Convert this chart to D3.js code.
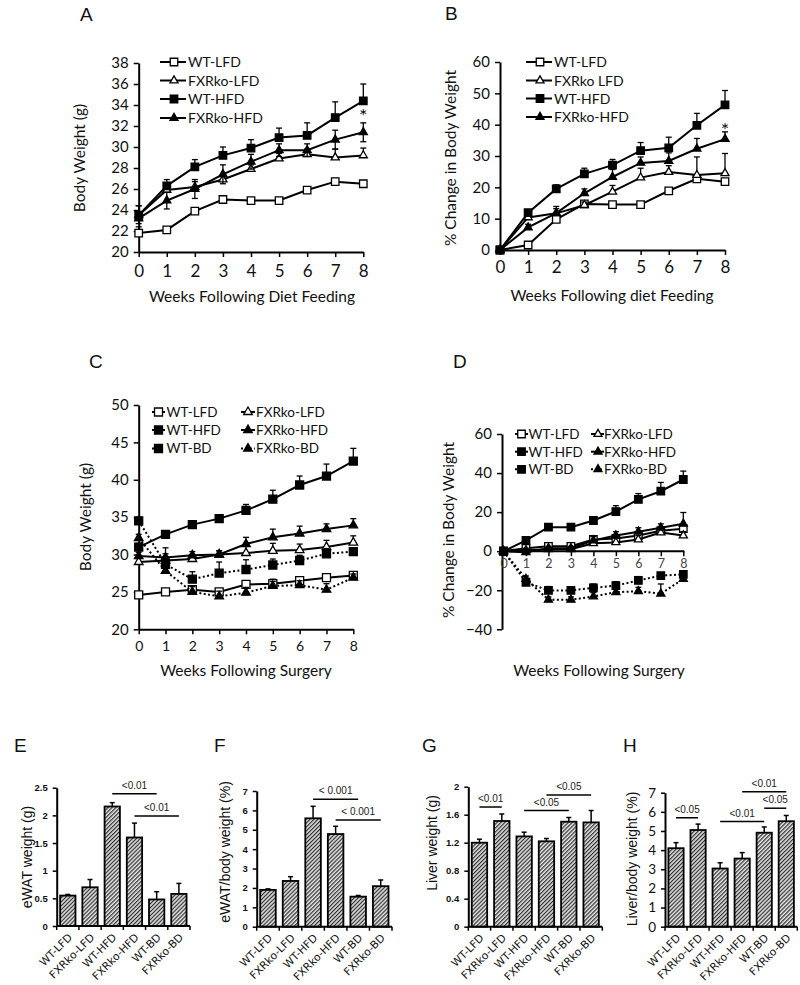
<!DOCTYPE html>
<html><head><meta charset="utf-8">
<script src="https://cdn.jsdelivr.net/npm/d3@7/dist/d3.min.js"></script>
<style>body{margin:0;background:#fff}svg{display:block}</style>
</head><body>
<svg id="fig" width="800" height="985"></svg>
<script>
// ---------------- DATA ----------------
const weeks = [0,1,2,3,4,5,6,7,8];

// Panel A: body weight (g), diet feeding
const aWtLfd = [21.8,22.1,23.9,25.0,24.9,24.9,25.9,26.7,26.5];
const aWtLfdErr = [0.6,0.2,0.2,0.2,0.2,0.2,0.3,0.3,0.2];
const aKoLfd = [23.5,25.9,26.2,26.9,27.9,28.9,29.3,29.0,29.2];
const aKoLfdErr = [0.9,0.6,0.5,0.5,0.4,0.5,0.5,0.8,0.7];
const aWtHfd = [23.5,26.3,28.1,29.2,29.9,30.9,31.1,32.8,34.4];
const aWtHfdErr = [0.9,0.6,0.7,0.8,0.8,0.9,1.2,1.5,1.6];
const aKoHfd = [23.2,24.9,26.0,27.4,28.6,29.7,29.7,30.7,31.4];
const aKoHfdErr = [0.5,0.8,0.9,0.9,0.7,0.6,0.6,0.9,0.9];
const aYTicks = [20,22,24,26,28,30,32,34,36,38];

// Panel B: % change in body weight, diet feeding
const bWtLfd = [0,1.6,9.8,14.7,14.5,14.5,18.9,22.7,21.8];
const bWtLfdErr = [0,0.5,0.6,0.6,0.5,0.5,0.6,0.9,0.8];
const bKoLfd = [0,10.4,11.7,14.3,18.6,23.1,24.9,23.9,24.5];
const bKoLfdErr = [0,1,1.5,1,2,3,2,5.8,6.3];
const bWtHfd = [0,11.9,19.5,24.3,27.1,31.7,32.6,39.8,46.3];
const bWtHfdErr = [0,0.5,1.3,1.8,1.8,2.6,3.4,3.8,4.6];
const bKoHfd = [0,7.2,11.8,18.1,23.3,27.8,28.4,32.3,35.4];
const bKoHfdErr = [0,1,2.1,1.4,2.4,1.9,2.6,3.3,2.3];
const bYTicks = [0,10,20,30,40,50,60];

// Panel C: body weight (g), following surgery
const cWtLfd = [24.6,25.0,25.3,25.0,26.0,26.1,26.5,26.9,27.2];
const cWtLfdErr = [0.3,0.3,0.4,0.4,0.5,0.6,0.5,0.5,0.5];
const cKoLfd = [29.0,29.2,29.4,30.0,30.2,30.5,30.6,31.0,31.6];
const cKoLfdErr = [0.5,0.5,0.5,0.5,1.0,1.0,0.8,0.9,0.9];
const cWtHfd = [31.0,32.7,34.0,34.8,35.9,37.4,39.3,40.5,42.5];
const cWtHfdErr = [0.5,0.4,0.4,0.4,0.8,1.2,1.2,1.6,1.7];
const cKoHfd = [29.8,29.6,29.9,30.0,31.4,32.3,32.8,33.4,33.9];
const cKoHfdErr = [0.5,0.5,0.5,0.5,0.9,1.1,1.0,0.7,0.9];
const cWtBd = [34.5,28.7,26.7,27.5,28.0,28.6,29.2,30.1,30.4];
const cWtBdErr = [0.5,2.2,1.0,1.5,1.3,0.8,0.7,0.7,0.5];
const cKoBd = [32.2,27.8,25.0,24.4,24.9,25.8,25.9,25.3,26.9];
const cKoBdErr = [0.5,1.0,0.7,0.7,0.7,0.6,0.6,0.8,0.5];
const cYTicks = [20,25,30,35,40,45,50];

// Panel D: % change in body weight, following surgery
const dWtLfd = [0,1.5,2.5,2.5,6.0,6.5,8.0,10.5,11.5];
const dWtLfdErr = [0,1,1,1,1.5,1.5,1.5,1.5,1.5];
const dKoLfd = [0,0.5,1.0,1.0,4.0,4.5,6.0,9.5,8.0];
const dKoLfdErr = [0,1,1,1,1.5,2,2,2,2];
const dWtHfd = [0,5.5,12.3,12.3,15.7,20.3,26.5,30.7,36.7];
const dWtHfdErr = [0,1,1,1,1.5,3,3,4.5,4.3];
const dKoHfd = [0,-0.5,1.5,1.5,5.5,8.0,10.0,12.0,14.0];
const dKoHfdErr = [0,1,1,1,2,2,2,2,5.8];
const dWtBd = [0,-15.9,-20.1,-20.1,-18.8,-17.6,-15.0,-12.5,-11.9];
const dWtBdErr = [0,1.5,2,1.5,2,2,2,1.5,1.5];
const dKoBd = [0,-14.2,-24.9,-24.9,-23.2,-21.0,-20.5,-21.8,-14.2];
const dKoBdErr = [0,1.5,1.5,1.5,2,2,2,5,2];
const dYTicks = [-40,-20,0,20,40,60];

// Bar panels
const barCats = ["WT-LFD","FXRko-LFD","WT-HFD","FXRko-HFD","WT-BD","FXRko-BD"];
const eVals = [0.55,0.70,2.16,1.60,0.48,0.58];
const eErr  = [0.02,0.14,0.07,0.26,0.14,0.19];
const eTicks = [0,0.5,1,1.5,2,2.5];
const eTickLabels = ["0","0.5","1","1.5","2","2.5"];
const fVals = [1.90,2.36,5.59,4.78,1.55,2.09];
const fErr  = [0.05,0.22,0.62,0.40,0.06,0.32];
const fTicks = [0,1,2,3,4,5,6,7];
const gVals = [1.20,1.51,1.29,1.22,1.50,1.49];
const gErr  = [0.05,0.10,0.06,0.04,0.06,0.17];
const gTicks = [0,0.4,0.8,1.2,1.6,2];
const gTickLabels = ["0","0.4","0.8","1.2","1.6","2"];
const hVals = [4.10,5.05,3.04,3.56,4.91,5.51];
const hErr  = [0.29,0.31,0.30,0.31,0.30,0.30];
const hTicks = [0,1,2,3,4,5,6,7];
// significance brackets: [from index, to index, label, level]
const eSig = [[2,4,"<0.01",2.39],[3,5,"<0.01",1.99]];
const fSig = [[2,4,"< 0.001",6.57],[3,5,"< 0.001",5.5]];
const gSig = [[0,1,"<0.01",1.71],[2,4,"<0.05",1.66],[3,5,"<0.05",1.88]];
const hSig = [[0,1,"<0.05",5.69],[2,4,"<0.01",5.49],[3,5,"<0.01",7.05],[4,5,"<0.05",6.19]];

// ---------------- DRAWING ----------------
const svg = d3.select("#fig");
svg.append("rect").attr("width",800).attr("height",985).attr("fill","#fff");
const defs = svg.append("defs");
const pat = defs.append("pattern").attr("id","hatch").attr("patternUnits","userSpaceOnUse")
  .attr("width",2.8).attr("height",2.8).attr("patternTransform","rotate(45)");
pat.append("rect").attr("width",2.8).attr("height",2.8).attr("fill","#e2e2e2");
pat.append("line").attr("x1",0.6).attr("y1",0).attr("x2",0.6).attr("y2",2.8).attr("stroke","#222").attr("stroke-width",1.1);

const SANS = "Lato, 'Open Sans', sans-serif";
const ARIAL = "'Liberation Sans', Arial, sans-serif";

function panelLetter(t,x,y){
  svg.append("text").attr("x",x).attr("y",y).text(t)
    .attr("font-family",ARIAL).attr("font-size",19).attr("fill","#111");
}

function drawMarker(g, type, filled, cx, cy, sz){
  const area = type==="sq" ? sz*sz : sz*sz*0.5;
  g.append("path")
    .attr("d", d3.symbol().type(type==="sq"?d3.symbolSquare:d3.symbolTriangle).size(area)())
    .attr("transform",`translate(${cx},${cy})`)
    .attr("fill", filled ? "#000" : "#fff")
    .attr("stroke","#000").attr("stroke-width",1.3);
}

function linePanel(o){
  const g = svg.append("g");
  const x = d3.scaleLinear().domain([0,8]).range(o.xr);
  const y = d3.scaleLinear().domain(o.yd).range(o.yr);
  const yAxisX = o.yAxisX !== undefined ? o.yAxisX : x(0);
  const xAxisY = o.xAxisY !== undefined ? o.xAxisY : o.yr[0];
  const ya = g.append("g").attr("transform",`translate(${yAxisX},0)`)
    .call(d3.axisLeft(y).tickValues(o.yTicks).tickSize(5).tickSizeOuter(0).tickPadding(o.yPad||5));
  const xa = g.append("g").attr("transform",`translate(0,${xAxisY})`)
    .call(d3.axisBottom(x).tickValues(weeks).tickSize(5).tickSizeOuter(0).tickPadding(o.xPad||6));
  [ya,xa].forEach(a=>{
    a.select(".domain").attr("stroke","#000").attr("stroke-width",2);
    a.selectAll(".tick line").attr("stroke","#000").attr("stroke-width",1.5);
  });
  if (o.xAxisStart!==undefined) xa.select(".domain").attr("d",`M${o.xAxisStart},0H${x(8)+1}`);
  ya.selectAll("text").attr("font-family",SANS).attr("font-size",o.yFs).attr("fill","#111");
  xa.selectAll("text").attr("font-family",SANS).attr("font-size",o.xFs).attr("fill",o.xTickColor||"#111");

  o.series.forEach(s=>{
    const sg = g.append("g");
    s.values.forEach((v,i)=>{
      const e = s.errs[i]; if(!e) return;
      const cx = x(weeks[i]);
      const top = y(v+e), bot = s.both ? y(v-e) : y(v);
      sg.append("line").attr("x1",cx).attr("x2",cx).attr("y1",bot).attr("y2",top).attr("stroke","#000").attr("stroke-width",1.3);
      sg.append("line").attr("x1",cx-3).attr("x2",cx+3).attr("y1",top).attr("y2",top).attr("stroke","#000").attr("stroke-width",1.3);
      if (s.both) sg.append("line").attr("x1",cx-3).attr("x2",cx+3).attr("y1",bot).attr("y2",bot).attr("stroke","#000").attr("stroke-width",1.3);
    });
    sg.append("path")
      .attr("d", d3.line().x((d,i)=>x(weeks[i])).y(d=>y(d))(s.values))
      .attr("fill","none").attr("stroke","#000").attr("stroke-width",2)
      .attr("stroke-dasharray", s.dotted ? "2,2.4" : null);
    s.values.forEach((v,i)=>drawMarker(sg, s.type, s.filled, x(weeks[i]), y(v), o.msz));
  });

  o.series.forEach((s,k)=>{
    const L = o.legend[k];
    g.append("line").attr("x1",L[0]).attr("x2",L[1]).attr("y1",L[3]).attr("y2",L[3])
      .attr("stroke","#000").attr("stroke-width",2).attr("stroke-dasharray", s.dotted ? "2,2.4" : null);
    drawMarker(g, s.type, s.filled, L[2], L[3], o.msz);
    g.append("text").attr("x",L[4]).attr("y",L[3]).attr("dy","0.36em").text(s.name)
      .attr("font-family",SANS).attr("font-size",o.legFs).attr("fill","#111");
  });
  (o.stars||[]).forEach(st=>{
    g.append("text").attr("x",x(st[0])).attr("y",y(st[1])).attr("text-anchor","middle").attr("dy","0.7em")
      .text("*").attr("font-family",SANS).attr("font-size",20).attr("fill","#111");
  });
  g.append("text").attr("transform",`translate(${o.yTitle[0]},${o.yTitle[1]}) rotate(-90)`)
    .attr("text-anchor","middle").attr("dy","0.35em").text(o.yTitle[2])
    .attr("font-family",SANS).attr("font-size",o.titleFs).attr("fill","#111");
  g.append("text").attr("x",o.xTitle[0]).attr("y",o.xTitle[1]).attr("text-anchor","middle").text(o.xTitle[2])
    .attr("font-family",SANS).attr("font-size",o.titleFs).attr("fill","#111");
}

// Panel A
panelLetter("A",80,21);
linePanel({
  xr:[138.7,363.3], yd:[20,38], yr:[252,63], yTicks:aYTicks, yFs:15, xFs:17, xPad:8, msz:7.5, legFs:14, titleFs:15.5,
  series:[
    {name:"WT-LFD",values:aWtLfd,errs:aWtLfdErr,type:"sq",filled:false},
    {name:"FXRko-LFD",values:aKoLfd,errs:aKoLfdErr,type:"tri",filled:false},
    {name:"WT-HFD",values:aWtHfd,errs:aWtHfdErr,type:"sq",filled:true},
    {name:"FXRko-HFD",values:aKoHfd,errs:aKoHfdErr,type:"tri",filled:true,both:true}
  ],
  legend:[[160,186,174,62,188],[160,186,174,80.5,188],[160,186,174,99,188],[160,186,174,118,188]],
  stars:[[8,33.6]],
  yTitle:[80,158,"Body Weight (g)"], xTitle:[252,302,"Weeks Following Diet Feeding"]
});

// Panel B
panelLetter("B",445,20);
linePanel({
  xr:[500,725], yd:[0,60], yr:[250,62], yTicks:bYTicks, yFs:15, xFs:17, xPad:6, msz:7.5, legFs:14, titleFs:15.5,
  series:[
    {name:"WT-LFD",values:bWtLfd,errs:bWtLfdErr,type:"sq",filled:false},
    {name:"FXRko LFD",values:bKoLfd,errs:bKoLfdErr,type:"tri",filled:false},
    {name:"WT-HFD",values:bWtHfd,errs:bWtHfdErr,type:"sq",filled:true},
    {name:"FXRko-HFD",values:bKoHfd,errs:bKoHfdErr,type:"tri",filled:true}
  ],
  legend:[[526,552,540,62,554],[526,552,540,80.5,554],[526,552,540,98.5,554],[526,552,540,117,554]],
  stars:[[8,40.6]],
  yTitle:[451,158,"% Change in Body Weight"], xTitle:[612,301,"Weeks Following diet Feeding"]
});

// Panel C
panelLetter("C",89,368);
linePanel({
  xr:[138.7,353.3], yd:[20,50], yr:[629.3,405], yTicks:cYTicks, yFs:15, xFs:14, xPad:7, msz:8, legFs:13.5, titleFs:15.5,
  series:[
    {name:"WT-LFD",values:cWtLfd,errs:cWtLfdErr,type:"sq",filled:false},
    {name:"FXRko-LFD",values:cKoLfd,errs:cKoLfdErr,type:"tri",filled:false},
    {name:"WT-HFD",values:cWtHfd,errs:cWtHfdErr,type:"sq",filled:true},
    {name:"FXRko-HFD",values:cKoHfd,errs:cKoHfdErr,type:"tri",filled:true},
    {name:"WT-BD",values:cWtBd,errs:cWtBdErr,type:"sq",filled:true,dotted:true},
    {name:"FXRko-BD",values:cKoBd,errs:cKoBdErr,type:"tri",filled:true,dotted:true}
  ],
  legend:[[152,165,158.5,412,166.5],[241,255,248,412,256],[152,165,158.5,430,166.5],[241,255,248,430,256],[152,165,158.5,448.5,166.5],[241,255,248,448.5,256]],
  yTitle:[86,517,"Body Weight (g)"], xTitle:[246,676,"Weeks Following Surgery"]
});

// Panel D
panelLetter("D",453,368);
const yD = d3.scaleLinear().domain([-40,60]).range([629.3,434]);
linePanel({
  xr:[503.5,683.3], yd:[-40,60], yr:[629.3,434], yTicks:dYTicks, yFs:15, xFs:12.5, xPad:3, xTickColor:"#444",
  yAxisX:502, xAxisY:yD(0), xAxisStart:502, msz:7.5, legFs:13.5, titleFs:15.5,
  series:[
    {name:"WT-LFD",values:dWtLfd,errs:dWtLfdErr,type:"sq",filled:false},
    {name:"FXRko-LFD",values:dKoLfd,errs:dKoLfdErr,type:"tri",filled:false},
    {name:"WT-HFD",values:dWtHfd,errs:dWtHfdErr,type:"sq",filled:true},
    {name:"FXRko-HFD",values:dKoHfd,errs:dKoHfdErr,type:"tri",filled:true},
    {name:"WT-BD",values:dWtBd,errs:dWtBdErr,type:"sq",filled:true,dotted:true},
    {name:"FXRko-BD",values:dKoBd,errs:dKoBdErr,type:"tri",filled:true,dotted:true}
  ],
  legend:[[515,528,521.5,434,528.5],[591,604,598,434,604],[515,528,521.5,451.7,528.5],[591,604,598,451.7,604],[515,528,521.5,469.3,528.5],[591,604,598,469.3,604]],
  yTitle:[449,530,"% Change in Body Weight"], xTitle:[599,676,"Weeks Following Surgery"]
});

// Bar panels
function barPanel(o){
  const g = svg.append("g");
  const x = d3.scaleBand().domain(barCats).range(o.xr).paddingInner(0.31).paddingOuter(0.155);
  const y = d3.scaleLinear().domain(o.yd).range(o.yr);
  o.vals.forEach((v,i)=>{
    const c = barCats[i];
    g.append("rect").attr("x",x(c)).attr("y",y(v)).attr("width",x.bandwidth()).attr("height",y(0)-y(v))
      .attr("fill","url(#hatch)").attr("stroke","#000").attr("stroke-width",1.8);
    const cx = x(c)+x.bandwidth()/2, top = y(v+o.errs[i]);
    g.append("line").attr("x1",cx).attr("x2",cx).attr("y1",y(v)).attr("y2",top).attr("stroke","#000").attr("stroke-width",1.5);
    g.append("line").attr("x1",cx-2.5).attr("x2",cx+2.5).attr("y1",top).attr("y2",top).attr("stroke","#000").attr("stroke-width",1.5);
  });
  const ya = g.append("g").attr("transform",`translate(${o.xr[0]},0)`)
    .call(d3.axisLeft(y).tickValues(o.ticks).tickFormat((d,i)=>o.tickLabels?o.tickLabels[i]:String(d)).tickSize(4).tickSizeOuter(0).tickPadding(5));
  ya.select(".domain").attr("stroke","#000").attr("stroke-width",2);
  ya.selectAll(".tick line").attr("stroke","#000").attr("stroke-width",1.5);
  ya.selectAll("text").attr("font-family",o.tickFont).attr("font-size",o.tickFs).attr("font-weight",o.tickBold?"bold":"normal").attr("fill","#111");
  const xa = g.append("g").attr("transform",`translate(0,${o.yr[0]})`);
  xa.append("line").attr("x1",o.xr[0]).attr("x2",o.xr[1]).attr("y1",0).attr("y2",0).attr("stroke","#000").attr("stroke-width",2);
  d3.range(7).forEach(k=>{
    const tx = o.xr[0] + k*(o.xr[1]-o.xr[0])/6;
    xa.append("line").attr("x1",tx).attr("x2",tx).attr("y1",0).attr("y2",4).attr("stroke","#000").attr("stroke-width",1.5);
  });
  barCats.forEach(c=>{
    const cx = x(c)+x.bandwidth()/2;
    xa.append("text").attr("transform",`translate(${cx+5},${12}) rotate(-45)`).attr("text-anchor","end")
      .text(c).attr("font-family","'DejaVu Sans', Verdana, sans-serif").attr("font-size",10.8).attr("fill","#111");
  });
  o.sig.forEach(s=>{
    const x1 = x(barCats[s[0]])+x.bandwidth()/2, x2 = x(barCats[s[1]])+x.bandwidth()/2, yy = y(s[3]);
    g.append("line").attr("x1",x1).attr("x2",x2).attr("y1",yy).attr("y2",yy).attr("stroke","#000").attr("stroke-width",1.5);
    g.append("text").attr("x",(x1+x2)/2).attr("y",yy-5).attr("text-anchor","middle").text(s[2])
      .attr("font-family",ARIAL).attr("font-size",10).attr("fill","#222");
  });
  g.append("text").attr("transform",`translate(${o.yTitle[0]},${o.yTitle[1]}) rotate(-90)`)
    .attr("text-anchor","middle").attr("dy","0.35em").text(o.yTitle[2])
    .attr("font-family",ARIAL).attr("font-size",14).attr("fill","#111");
}

panelLetter("E",14,752);
barPanel({xr:[56.7,190], yd:[0,2.5], yr:[926,787.7], vals:eVals, errs:eErr, ticks:eTicks, tickLabels:eTickLabels,
  tickFont:ARIAL, tickFs:9.5, tickBold:true, sig:eSig, yTitle:[27,857,"eWAT weight (g)"]});
panelLetter("F",214,752);
barPanel({xr:[256.7,392], yd:[0,7], yr:[926.7,791], vals:fVals, errs:fErr, ticks:fTicks,
  tickFont:ARIAL, tickFs:9.5, tickBold:true, sig:fSig, yTitle:[225,852,"eWAT/body weight (%)"]});
panelLetter("G",422,752);
barPanel({xr:[468.3,602.3], yd:[0,2], yr:[926.7,786.7], vals:gVals, errs:gErr, ticks:gTicks, tickLabels:gTickLabels,
  tickFont:ARIAL, tickFs:9.5, tickBold:true, sig:gSig, yTitle:[432,843,"Liver weight (g)"]});
panelLetter("H",623,752);
barPanel({xr:[665,797.3], yd:[0,7], yr:[926.7,792.7], vals:hVals, errs:hErr, ticks:hTicks,
  tickFont:SANS, tickFs:13.5, tickBold:false, sig:hSig, yTitle:[632,859,"Liver/body weight (%)"]});
</script>
</body></html>
